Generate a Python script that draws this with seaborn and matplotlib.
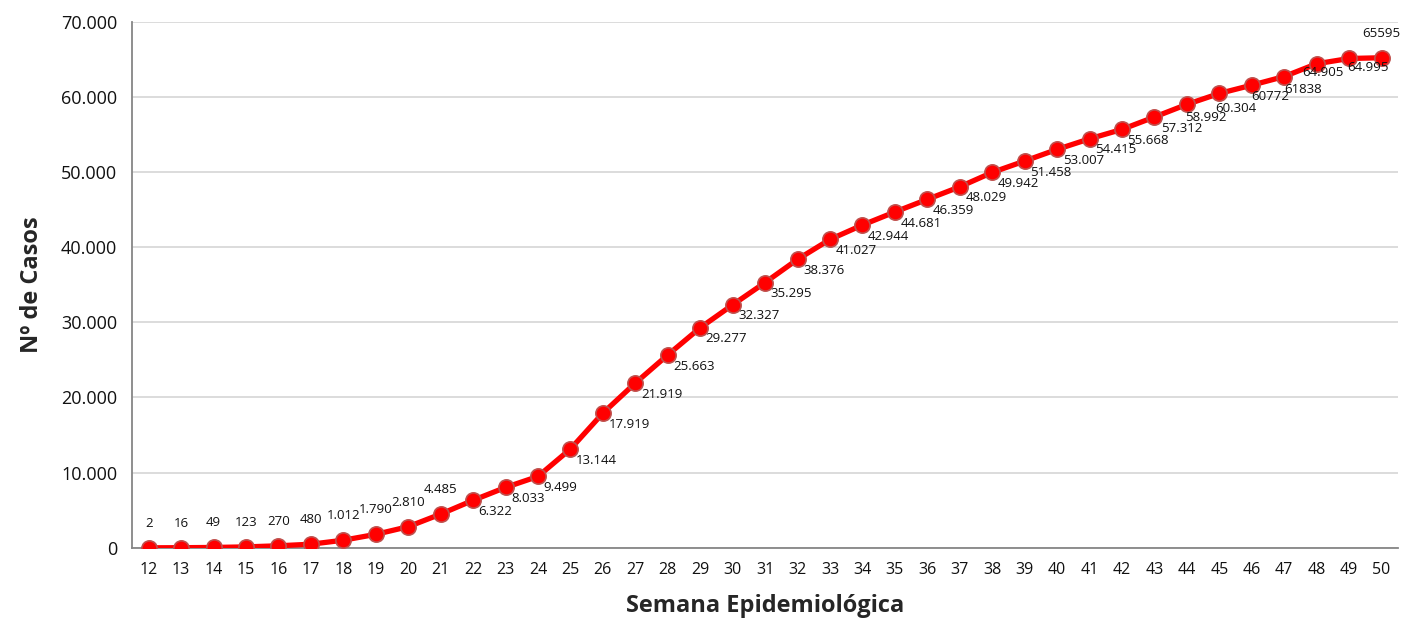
import seaborn as sns
import matplotlib.pyplot as plt
import pandas as pd
import numpy as np

# Semanas epidemiológicas e casos acumulados
semanas = list(range(12, 51))
casos = [2, 16, 49, 123, 270, 480, 1012, 1790, 2810, 4485,
         6322, 8033, 9499, 13144, 17919, 21919, 25663, 29277, 32327, 35295,
         38376, 41027, 42944, 44681, 46359, 48029, 49942, 51458, 53007, 54415,
         55668, 57312, 58992, 60450, 61550, 62700, 64400, 65100, 65200]
rotulos = ["2", "16", "49", "123", "270", "480", "1.012", "1.790", "2.810", "4.485",
           "6.322", "8.033", "9.499", "13.144", "17.919", "21.919", "25.663", "29.277", "32.327", "35.295",
           "38.376", "41.027", "42.944", "44.681", "46.359", "48.029", "49.942", "51.458", "53.007", "54.415",
           "55.668", "57.312", "58.992", "60.304", "60772", "61838", "64.905", "64.995", "65595"]
y_ticks = [0, 10000, 20000, 30000, 40000, 50000, 60000, 70000]
y_tick_labels = ["0", "10.000", "20.000", "30.000", "40.000", "50.000", "60.000", "70.000"]

# deslocamento dos rótulos no final da série (pontos)
desloc_final = {43: (5, -8), 44: (-1, -9.5), 45: (-3, -10.5), 46: (0, -8),
                47: (0, -9), 48: (-10, -6.5), 49: (-1.5, -6.5)}

df = pd.DataFrame({"semana": semanas, "casos": casos})

sns.set_style("white")
plt.rcParams['font.family'] = ['Open Sans', 'DejaVu Sans']

fig, ax = plt.subplots(figsize=(14.09, 6.19), dpi=100)
fig.subplots_adjust(left=0.094, right=0.992, top=0.965, bottom=0.115)

sns.lineplot(data=df, x="semana", y="casos", ax=ax, color="#FF0000", linewidth=3.8,
             marker="o", markersize=11, markerfacecolor="#FF0000",
             markeredgecolor="#C0504D", markeredgewidth=1.2, zorder=3)

# rótulos de dados
for s, c, r in zip(semanas, casos, rotulos):
    if s <= 21 or s == 50:
        ax.annotate(r, (s, c), xytext=(0, 13), textcoords="offset points",
                    ha="center", va="bottom", fontsize=9.5, color="#111111")
    else:
        off = desloc_final.get(s, (4, -8))
        ax.annotate(r, (s, c), xytext=off, textcoords="offset points",
                    ha="left", va="center", fontsize=9.5, color="#111111")

ax.set_xlim(11.5, 50.5)
ax.set_ylim(0, 70000)
ax.set_xticks(semanas)
ax.set_xticklabels([str(s) for s in semanas])
ax.set_xticks(np.arange(11.5, 51, 1), minor=True)
ax.set_yticks(y_ticks)
ax.set_yticklabels(y_tick_labels)

ax.yaxis.grid(True, color="#D9D9D9", linewidth=1.3)
ax.set_axisbelow(True)
for side in ["top", "right"]:
    ax.spines[side].set_visible(False)
for side in ["left", "bottom"]:
    ax.spines[side].set_color("#868686")
    ax.spines[side].set_linewidth(1.3)

ax.tick_params(axis="x", which="major", length=0, pad=10, labelsize=11.5, colors="#111111")
ax.tick_params(axis="x", which="minor", length=5, width=1.2, color="#868686", direction="out")
ax.tick_params(axis="y", which="major", length=5, width=1.2, color="#868686",
               direction="out", labelsize=13, labelcolor="#111111", pad=6)

ax.set_xlabel("Semana Epidemiológica", fontsize=17, fontweight="bold", labelpad=12)
ax.set_ylabel("Nº de Casos", fontsize=17, fontweight="bold", labelpad=12)

plt.savefig("out.png", dpi=100)
